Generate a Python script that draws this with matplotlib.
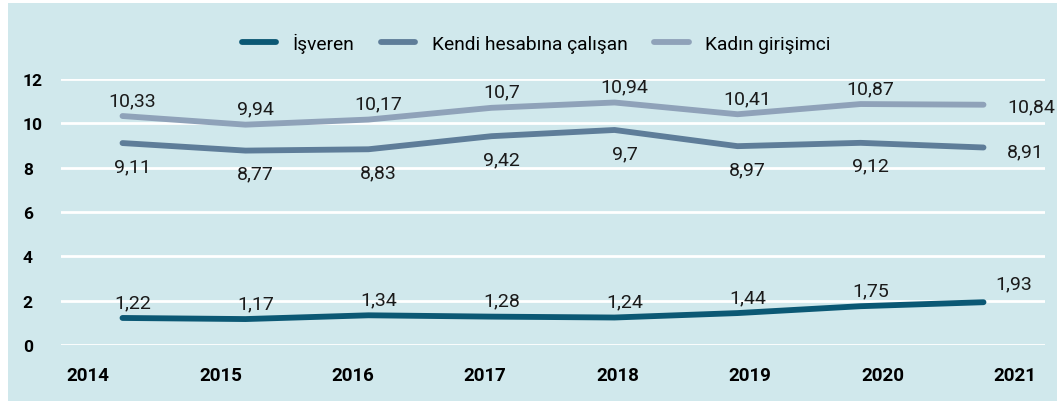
import matplotlib
matplotlib.use("Agg")
import matplotlib.pyplot as plt

# ---- data ----
years = ["2014", "2015", "2016", "2017", "2018", "2019", "2020", "2021"]
isveren = [1.22, 1.17, 1.34, 1.28, 1.24, 1.44, 1.75, 1.93]
kendi = [9.11, 8.77, 8.83, 9.42, 9.70, 8.97, 9.12, 8.91]
kadin = [10.33, 9.94, 10.17, 10.70, 10.94, 10.41, 10.87, 10.84]
series_names = ["İşveren", "Kendi hesabına çalışan", "Kadın girişimci"]
yticks = [0, 2, 4, 6, 8, 10, 12]

# ---- style ----
plt.rcParams["font.family"] = ["Roboto", "DejaVu Sans"]
BG = "#d0e8ec"
colors = ["#0b5874", "#5e7d99", "#8fa2b9"]
W, H = 1057, 402
fig = plt.figure(figsize=(W / 100, H / 100), dpi=100)
fig.patch.set_facecolor("white")
fig.patches.append(plt.Rectangle((8 / W, 0), 1, 1 - 4 / H, transform=fig.transFigure,
                                 facecolor=BG, edgecolor="none", zorder=-10))

left, right = 61 / W, 1045 / W
bottom, top = 1 - 346 / H, 1 - 80 / H
ax = fig.add_axes([left, bottom, right - left, top - bottom])
ax.set_facecolor("none")
x = list(range(len(years)))
ax.set_xlim(-0.5, len(years) - 0.5)
ax.set_ylim(0, 12)

for v in yticks:
    ax.axhline(v, color="white", lw=2, zorder=1)

all_series = [isveren, kendi, kadin]
handles = []
for vals, c, name in zip(all_series, colors, series_names):
    h, = ax.plot(x, vals, color=c, lw=4.2, solid_capstyle="round",
                 solid_joinstyle="round", zorder=3, label=name)
    handles.append(h)

def fmt(v):
    s = f"{v:.2f}".rstrip("0").rstrip(".")
    return s.replace(".", ",")

# label offsets in pixels (dx, dy) : normal, last
offs = [((10, 16), (30, 19)), ((10, -23), (42, -4)), ((10, 16), (48, -2))]
for vals, (o, olast) in zip(all_series, offs):
    for i, v in enumerate(vals):
        dx, dy = olast if i == len(vals) - 1 else o
        ax.annotate(fmt(v), (x[i], v), xytext=(dx, dy), textcoords="offset pixels",
                    ha="center", va="center", fontsize=14, color="#1a1a1a", zorder=5)

ax.set_yticks(yticks)
ax.set_yticklabels([str(v) for v in yticks], fontsize=12.5, fontweight="bold")
ax.tick_params(axis="y", length=0, pad=27.5)
for t in ax.get_yticklabels():
    t.set_horizontalalignment("left")
ax.set_xticks([])
for s in ax.spines.values():
    s.set_visible(False)

# year labels on their own scale
ax2 = ax.twiny()
ax2.xaxis.set_ticks_position("bottom")
ax2.set_xlim((61 - 88) / 132.4, (1045 - 88) / 132.4)
ax2.set_xticks(x)
ax2.set_xticklabels(years, fontsize=13.5, fontweight="bold")
ax2.tick_params(axis="x", length=0, pad=15)
for s in ax2.spines.values():
    s.set_visible(False)

fig.legend(handles=handles, loc="center", bbox_to_anchor=(536 / W, 1 - 44 / H),
           ncol=3, frameon=False, fontsize=13.8, handlelength=1.8, handletextpad=0.85,
           columnspacing=1.4)

fig.savefig("out.png", dpi=100, facecolor=fig.get_facecolor())
